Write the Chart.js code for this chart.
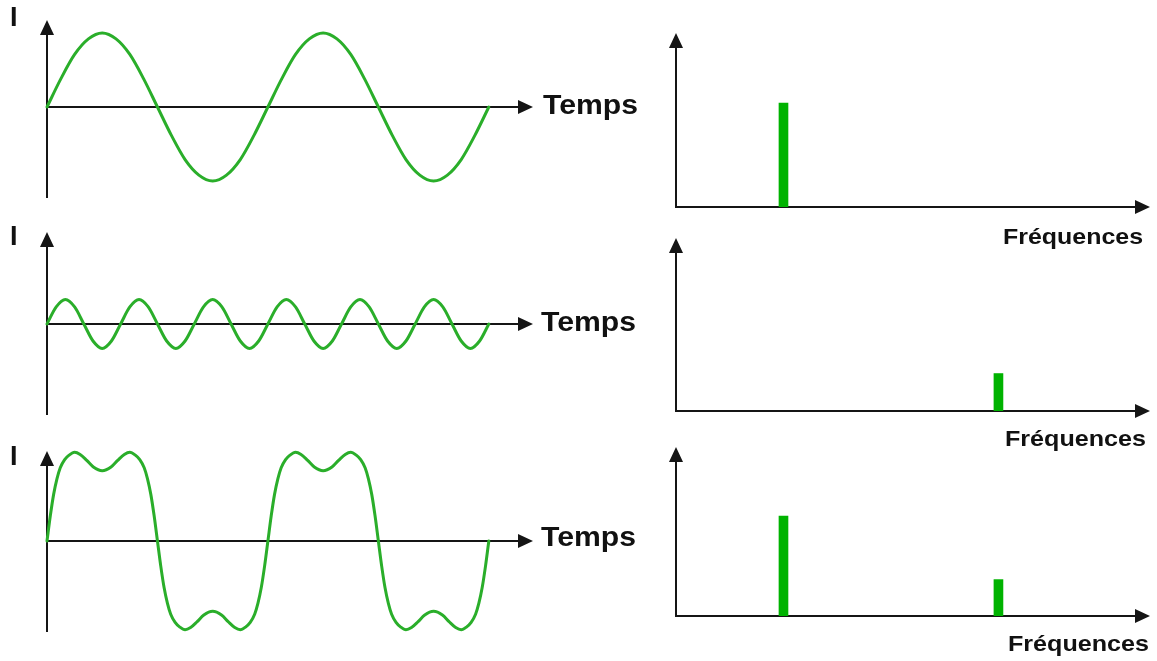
<!DOCTYPE html>
<html><head><meta charset="utf-8">
<script src="https://cdn.jsdelivr.net/npm/chart.js@4"></script>
<style>
html,body{margin:0;padding:0;background:#fff;width:1157px;height:661px;overflow:hidden}
canvas{position:absolute;left:0;top:0}
</style></head><body>
<canvas id="w1" width="1157" height="661"></canvas>
<canvas id="w2" width="1157" height="661"></canvas>
<canvas id="w3" width="1157" height="661"></canvas>
<canvas id="s1" width="1157" height="661"></canvas>
<canvas id="s2" width="1157" height="661"></canvas>
<canvas id="s3" width="1157" height="661"></canvas>
<script>
// ---- Data ----
// Time axis units: one fundamental period = 100
const time1 = [0,6.25,12.5,18.75,25,31.25,37.5,43.75,50,56.25,62.5,68.75,75,81.25,87.5,93.75,100,106.25,112.5,118.75,125,131.25,137.5,143.75,150,156.25,162.5,168.75,175,181.25,187.5,193.75,200];
const current1 = [0,3.8,7.1,9.2,10,9.2,7.1,3.8,0,-3.8,-7.1,-9.2,-10,-9.2,-7.1,-3.8,0,3.8,7.1,9.2,10,9.2,7.1,3.8,0,-3.8,-7.1,-9.2,-10,-9.2,-7.1,-3.8,0];

const time2 = [0,4.17,8.33,12.5,16.67,20.83,25,29.17,33.33,37.5,41.67,45.83,50,54.17,58.33,62.5,66.67,70.83,75,79.17,83.33,87.5,91.67,95.83,100,104.17,108.33,112.5,116.67,120.83,125,129.17,133.33,137.5,141.67,145.83,150,154.17,158.33,162.5,166.67,170.83,175,179.17,183.33,187.5,191.67,195.83,200];
const current2 = [0,2.3,3.3,2.3,0,-2.3,-3.3,-2.3,0,2.3,3.3,2.3,0,-2.3,-3.3,-2.3,0,2.3,3.3,2.3,0,-2.3,-3.3,-2.3,0,2.3,3.3,2.3,0,-2.3,-3.3,-2.3,0,2.3,3.3,2.3,0,-2.3,-3.3,-2.3,0,2.3,3.3,2.3,0,-2.3,-3.3,-2.3,0];

const time3 = [0,1.5,3,4.5,6,8,10,12.5,15,18,21,25,29,32,35,37.5,40,42,44,45.5,47,48.5,50,
  51.5,53,54.5,56,58,60,62.5,65,68,71,75,79,82,85,87.5,90,92,94,95.5,97,98.5,100,
  101.5,103,104.5,106,108,110,112.5,115,118,121,125,129,132,135,137.5,140,142,144,145.5,147,148.5,150,
  151.5,153,154.5,156,158,160,162.5,165,168,171,175,179,182,185,187.5,190,192,194,195.5,197,198.5,200];
const current3 = [0,3.4,6.3,8.4,9.9,11,11.6,12,11.7,10.9,10,9.5,10,10.9,11.7,12,11.6,11,9.9,8.4,6.3,3.4,0,
  -3.4,-6.3,-8.4,-9.9,-11,-11.6,-12,-11.7,-10.9,-10,-9.5,-10,-10.9,-11.7,-12,-11.6,-11,-9.9,-8.4,-6.3,-3.4,0,
  3.4,6.3,8.4,9.9,11,11.6,12,11.7,10.9,10,9.5,10,10.9,11.7,12,11.6,11,9.9,8.4,6.3,3.4,0,
  -3.4,-6.3,-8.4,-9.9,-11,-11.6,-12,-11.7,-10.9,-10,-9.5,-10,-10.9,-11.7,-12,-11.6,-11,-9.9,-8.4,-6.3,-3.4,0];

// Spectra: frequency in multiples of the fundamental, amplitude
const freq1 = [1];    const amp1 = [10];
const freq2 = [3];    const amp2 = [3.6];
const freq3 = [1, 3]; const amp3 = [9.6, 3.5];

const timeLabel = 'Temps';
const freqLabel = 'Fréquences';
const currentLabel = 'I';

// ---- Styling / layout ----
const W = 1157, H = 661;
const WAVE = '#2aae2a', BAR = '#00b300', AXIS = '#151515', TXT = '#111';
const FONT = '"Liberation Sans", Arial, sans-serif';

const arrowAxes = {
  id: 'arrowAxes',
  beforeDatasetsDraw(chart, args, o) {
    const {ctx, chartArea: a, scales: {x, y}} = chart;
    const x0 = Math.round(x.getPixelForValue(0));
    const y0 = Math.round(y.getPixelForValue(0));
    const hl = 15, hw = 7;
    ctx.save();
    ctx.strokeStyle = AXIS; ctx.fillStyle = AXIS; ctx.lineWidth = 2;
    ctx.beginPath(); ctx.moveTo(x0, a.bottom); ctx.lineTo(x0, a.top + hl - 2); ctx.stroke();
    ctx.beginPath(); ctx.moveTo(x0 - 1, y0); ctx.lineTo(a.right - hl + 2, y0); ctx.stroke();
    ctx.beginPath(); ctx.moveTo(x0, a.top); ctx.lineTo(x0 - hw, a.top + hl); ctx.lineTo(x0 + hw, a.top + hl); ctx.closePath(); ctx.fill();
    ctx.beginPath(); ctx.moveTo(a.right, y0); ctx.lineTo(a.right - hl, y0 - hw); ctx.lineTo(a.right - hl, y0 + hw); ctx.closePath(); ctx.fill();
    ctx.restore();
  },
  afterDraw(chart, args, o) {
    const ctx = chart.ctx;
    (o.labels || []).forEach(l => {
      ctx.save();
      ctx.font = 'bold ' + l.size + 'px ' + FONT;
      ctx.fillStyle = TXT;
      ctx.textBaseline = 'middle';
      ctx.textAlign = 'left';
      const m = ctx.measureText(l.text).width;
      const sx = l.w ? l.w / m : 1;
      ctx.translate(l.x, l.y);
      ctx.scale(sx, 1);
      ctx.fillText(l.text, 0, 0);
      ctx.restore();
    });
  }
};

function pad(l, t, r, b) { return {left: l, top: t, right: W - r, bottom: H - b}; }

function waveChart(id, t, I, area, yMin, yMax, labels) {
  return new Chart(document.getElementById(id), {
    type: 'line',
    data: {datasets: [{
      data: t.map((v, i) => ({x: v, y: I[i]})),
      borderColor: WAVE, borderWidth: 3, pointRadius: 0, fill: false,
      cubicInterpolationMode: 'monotone', clip: false, borderCapStyle: 'round', borderJoinStyle: 'round'
    }]},
    options: {
      responsive: false, animation: false, events: [],
      layout: {padding: area},
      scales: {
        x: {type: 'linear', display: false, min: 0, max: 220},
        y: {type: 'linear', display: false, min: yMin, max: yMax}
      },
      plugins: {legend: {display: false}, tooltip: {enabled: false}, arrowAxes: {labels}}
    },
    plugins: [arrowAxes]
  });
}

function specChart(id, f, a, area, yMax, labels) {
  return new Chart(document.getElementById(id), {
    type: 'bar',
    data: {datasets: [{
      data: f.map((v, i) => ({x: v, y: a[i]})),
      backgroundColor: BAR, borderWidth: 0, barThickness: 9
    }]},
    options: {
      responsive: false, animation: false, events: [],
      layout: {padding: area},
      scales: {
        x: {type: 'linear', display: false, min: 0, max: 4.41, offset: false},
        y: {type: 'linear', display: false, min: 0, max: yMax}
      },
      plugins: {legend: {display: false}, tooltip: {enabled: false}, arrowAxes: {labels}}
    },
    plugins: [arrowAxes]
  });
}

// Left: time-domain waves (7.4 px per current unit)
waveChart('w1', time1, current1, pad(47, 20, 533, 198), -12.3, 11.76,
  [{text: currentLabel, x: 10, y: 19, size: 27},
   {text: timeLabel, x: 543, y: 107, size: 27, w: 95}]);
waveChart('w2', time2, current2, pad(47, 232, 533, 415), -12.3, 12.43,
  [{text: currentLabel, x: 10, y: 238, size: 27},
   {text: timeLabel, x: 541, y: 324, size: 27, w: 95}]);
waveChart('w3', time3, current3, pad(47, 451, 533, 632), -12.3, 12.16,
  [{text: currentLabel, x: 10, y: 458, size: 27},
   {text: timeLabel, x: 541, y: 539, size: 27, w: 95}]);

// Right: spectra (10.4 px per amplitude unit)
specChart('s1', freq1, amp1, pad(676, 33, 1150, 207), 16.73,
  [{text: freqLabel, x: 1003, y: 238, size: 22, w: 140}]);
specChart('s2', freq2, amp2, pad(676, 238, 1150, 411), 16.63,
  [{text: freqLabel, x: 1005, y: 440, size: 22, w: 141}]);
specChart('s3', freq3, amp3, pad(676, 447, 1150, 616), 16.25,
  [{text: freqLabel, x: 1008, y: 645, size: 22, w: 141}]);
</script>
</body></html>
